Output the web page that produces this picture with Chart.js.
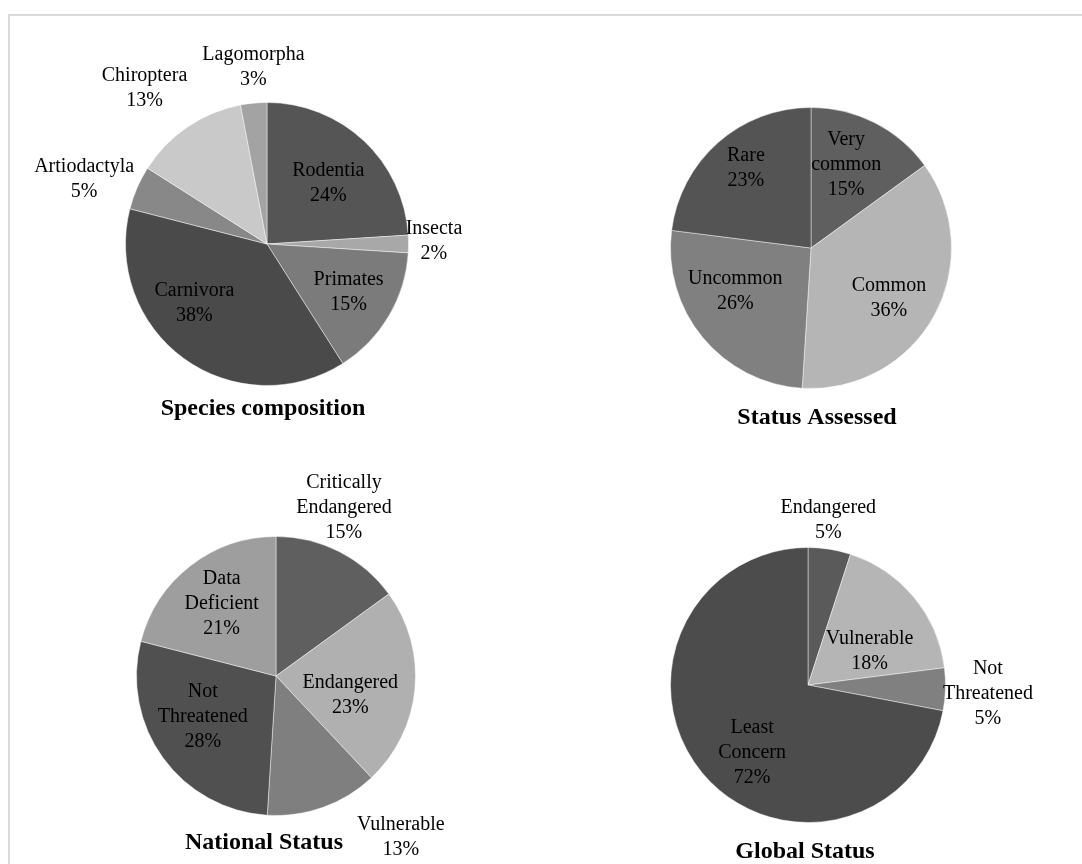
<!DOCTYPE html>
<html>
<head>
<meta charset="utf-8">
<script src="https://cdn.jsdelivr.net/npm/chart.js@4.4.0/dist/chart.umd.min.js"></script>
<style>
  html, body { margin: 0; padding: 0; background: #fff; }
  #wrap { position: relative; width: 1082px; height: 864px; overflow: hidden; background: #fff; }
  #frame { position: absolute; left: 8px; top: 14px; width: 1200px; height: 1000px;
           border-left: 2px solid #dadada; border-top: 2px solid #dadada; }
  canvas { position: absolute; }
</style>
</head>
<body>
<div id="wrap">
  <div id="frame"></div>
  <canvas id="species" width="541" height="432" style="left:0;top:0"></canvas>
  <canvas id="status" width="541" height="432" style="left:541px;top:0"></canvas>
  <canvas id="national" width="541" height="432" style="left:0;top:432px"></canvas>
  <canvas id="global" width="541" height="432" style="left:541px;top:432px"></canvas>
</div>
<script>
// datos de cada pastel (porcentajes)
const speciesLabels = ['Rodentia', 'Insecta', 'Primates', 'Carnivora', 'Artiodactyla', 'Chiroptera', 'Lagomorpha'];
const speciesValues = [24, 2, 15, 38, 5, 13, 3];

const statusLabels = [['Very', 'common'], 'Common', 'Uncommon', 'Rare'];
const statusValues = [15, 36, 26, 23];

const nationalLabels = [['Critically', 'Endangered'], 'Endangered', 'Vulnerable', ['Not', 'Threatened'], ['Data', 'Deficient']];
const nationalValues = [15, 23, 13, 28, 21];

const globalLabels = ['Endangered', 'Vulnerable', ['Not', 'Threatened'], ['Least', 'Concern']];
const globalValues = [5, 18, 5, 72];

// colores en gris
const speciesColors = ['#555555', '#a8a8a8', '#7b7b7b', '#4a4a4a', '#888888', '#c9c9c9', '#a3a3a3'];
const statusColors = ['#5f5f5f', '#b5b5b5', '#808080', '#545454'];
const nationalColors = ['#5f5f5f', '#b0b0b0', '#7f7f7f', '#505050', '#9e9e9e'];
const globalColors = ['#5a5a5a', '#b5b5b5', '#808080', '#4c4c4c'];

// plugin pa escribir los textos sobre cada tajada y el titulo debajo
const pieText = {
  id: 'pieText',
  afterDatasetsDraw(chart, args, opts) {
    const ctx = chart.ctx;
    const meta = chart.getDatasetMeta(0);
    const values = chart.data.datasets[0].data;
    ctx.save();
    ctx.fillStyle = '#000';
    ctx.textAlign = 'center';
    ctx.textBaseline = 'middle';
    ctx.font = '20px "Liberation Serif", "Times New Roman", serif';
    meta.data.forEach((arc, i) => {
      const p = arc.getProps(['x', 'y', 'startAngle', 'endAngle', 'outerRadius'], true);
      const place = opts.place[i];
      const a = (p.startAngle + p.endAngle) / 2 + place[1] * Math.PI / 180;
      const d = p.outerRadius * place[0];
      const lx = p.x + Math.cos(a) * d;
      const ly = p.y + Math.sin(a) * d;
      const lab = chart.data.labels[i];
      const lines = Array.isArray(lab) ? lab.slice() : [lab];
      lines.push(values[i] + '%');
      lines.forEach((t, k) => {
        ctx.fillText(t, lx, ly + (k - (lines.length - 1) / 2) * 25);
      });
    });
    const c = meta.data[0];
    ctx.font = 'bold 24px "Liberation Serif", "Times New Roman", serif';
    ctx.fillText(opts.title, c.x + opts.titleOffset[0], c.y + opts.titleOffset[1]);
    ctx.restore();
  }
};

function pie(id, labels, values, colors, box, center, r, place, title, titleOffset) {
  new Chart(document.getElementById(id), {
    type: 'pie',
    data: {
      labels: labels,
      datasets: [{
        data: values,
        backgroundColor: colors,
        borderColor: 'rgba(255,255,255,0.45)',
        borderWidth: 1
      }]
    },
    options: {
      responsive: false,
      animation: false,
      layout: {
        padding: {
          left: center[0] - r - box[0],
          top: center[1] - r - box[1],
          right: box[0] + 541 - (center[0] + r),
          bottom: box[1] + 432 - (center[1] + r)
        }
      },
      plugins: {
        legend: { display: false },
        tooltip: { enabled: false },
        pieText: { place: place, title: title, titleOffset: titleOffset }
      }
    },
    plugins: [pieText]
  });
}

pie('species', speciesLabels, speciesValues, speciesColors, [0, 0], [267, 244], 142,
  [[0.61, 2], [1.18, -1], [0.67, 0], [0.66, 15], [1.37, -4], [1.40, -4], [1.25, 1]],
  'Species composition', [-4, 165]);

pie('status', statusLabels, statusValues, statusColors, [541, 0], [811, 248], 141,
  [[0.64, -4], [0.66, 4], [0.62, 10], [0.73, 2]],
  'Status Assessed', [6, 170]);

pie('national', nationalLabels, nationalValues, nationalColors, [0, 432], [276, 676], 140,
  [[1.3, -5], [0.55, 9], [1.46, -18], [0.6, 7], [0.65, 1]],
  'National Status', [-12, 167]);

pie('global', globalLabels, globalValues, globalColors, [541, 432], [808, 685], 138,
  [[1.21, -2], [0.51, 11], [1.31, 1], [0.64, -11]],
  'Global Status', [-3, 167]);
</script>
</body>
</html>
